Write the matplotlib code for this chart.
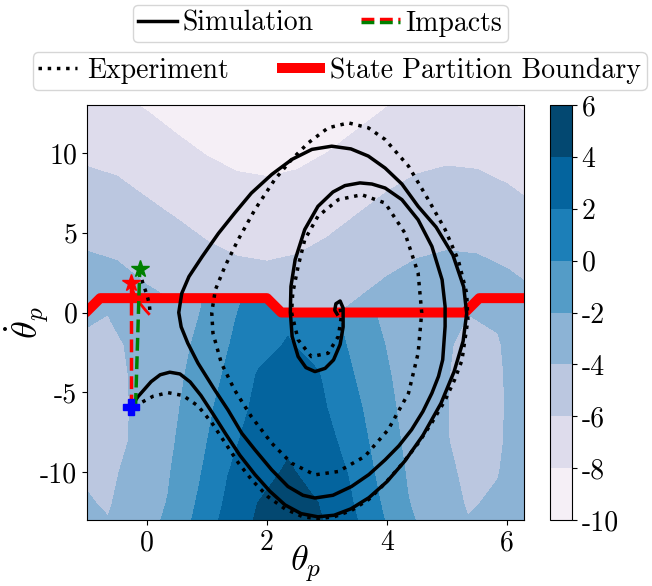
import matplotlib
matplotlib.use('Agg')
import matplotlib.pyplot as plt
from matplotlib.patches import Polygon
from matplotlib.lines import Line2D
from matplotlib.legend_handler import HandlerBase

plt.rcParams['font.family'] = 'serif'
plt.rcParams['font.serif'] = ['cmr10']
plt.rcParams['mathtext.fontset'] = 'cm'
plt.rcParams['axes.unicode_minus'] = False
plt.rcParams['font.size'] = 20

# contour levels / ticks
levels = [-10, -8, -6, -4, -2, 0, 2, 4, 6]
level_labels = ['-10', '-8', '-6', '-4', '-2', '0', '2', '4', '6']
xticks = [0, 2, 4, 6]
yticks = [-10, -5, 0, 5, 10]
ytick_labels = ['-10', '-5', '0', '5', '10']

# field above the partition boundary
upper_theta = [-1.0, -0.5, 0.0, 0.5, 1.0, 1.5, 2.0, 2.5, 3.0, 3.5, 4.0, 4.5, 5.0, 5.5, 6.0, 6.5]
upper_dtheta = [-1.0, 6.5, 13.5]
upper_z = [
    [-2.17, -2.40, -3.00, -3.41, -3.93, -4.29, -4.41, -4.25, -3.85, -3.31, -2.77, -2.35, -2.16, -2.24, -2.58, -3.09],
    [-5.00, -5.23, -5.75, -6.24, -6.76, -7.12, -7.24, -7.08, -6.68, -6.14, -5.60, -5.18, -4.99, -5.07, -5.41, -5.92],
    [-7.64, -7.87, -8.32, -8.88, -9.40, -9.76, -9.88, -9.72, -9.32, -8.78, -8.24, -7.82, -7.63, -7.71, -8.05, -8.56],
]

# field below the partition boundary
lower_theta = [-1.15, -0.65, -0.15, 0.35, 0.85, 1.35, 1.85, 2.35, 2.85, 3.35, 3.85, 4.35, 4.85, 5.35, 5.85, 6.35]
lower_dtheta = [-14.0, -12.0, -10.0, -8.0, -6.0, -4.0, -2.0, -0.5, 1.0]
lower_z = [
    [-3.40, -3.75, -2.65, -1.55, 0.78, 3.00, 4.42, 5.27, 4.42, 3.00, 0.78, -1.55, -2.65, -3.75, -3.40, -2.29],
    [-3.75, -4.15, -3.03, -1.92, 0.19, 2.40, 4.03, 4.75, 4.03, 2.40, 0.19, -1.92, -3.03, -4.15, -3.75, -2.56],
    [-4.07, -4.33, -3.44, -2.18, -0.28, 1.95, 3.40, 4.21, 3.40, 1.95, -0.28, -2.18, -3.44, -4.33, -4.07, -2.89],
    [-4.20, -4.44, -3.80, -2.42, -0.72, 1.51, 2.80, 3.69, 2.80, 1.51, -0.72, -2.42, -3.74, -4.44, -4.20, -3.16],
    [-4.20, -4.44, -3.82, -2.59, -1.09, 1.00, 2.44, 3.17, 2.44, 1.00, -1.09, -2.59, -3.76, -4.44, -4.20, -3.25],
    [-4.18, -4.44, -3.80, -2.70, -1.44, 0.38, 2.15, 2.65, 2.15, 0.38, -1.44, -2.70, -3.73, -4.44, -4.18, -3.28],
    [-4.09, -4.34, -3.70, -2.76, -1.77, -0.10, 1.40, 2.13, 1.40, -0.10, -1.77, -2.76, -3.65, -4.34, -4.09, -3.26],
    [-3.90, -4.05, -3.48, -2.74, -2.00, -0.39, 1.18, 1.74, 1.18, -0.39, -2.00, -2.74, -3.48, -4.05, -3.90, -3.16],
    [-3.80, -3.85, -3.60, -3.00, -2.30, -0.75, 0.80, 1.35, 0.80, -0.75, -2.30, -3.00, -3.60, -3.85, -3.80, -3.35],
]

# state partition boundary
bound_theta = [-1.3, -1.02, -0.78, 2.0, 2.24, 5.3, 5.54, 6.6]
bound_dtheta = [0.0, 0.0, 0.9, 0.9, 0.0, 0.0, 0.9, 0.9]

# simulated trajectory
sim_theta = [-0.27, -0.15, 0.07, 0.22, 0.38, 0.55, 0.72, 0.90, 1.10, 1.32, 1.55, 1.80, 2.05, 2.30,
             2.57, 2.85, 3.12, 3.40, 3.70, 4.00, 4.30, 4.60, 4.90, 5.12, 5.27, 5.33, 5.28, 5.10,
             4.82, 4.52, 4.25, 3.97, 3.69, 3.40, 3.08, 2.75, 2.42, 2.08, 1.74, 1.46, 1.19, 0.92,
             0.70, 0.58, 0.53, 0.57, 0.68, 0.85, 1.13, 1.35, 1.58, 1.80, 2.08, 2.35, 2.60, 2.80,
             3.10, 3.41, 3.70, 3.97, 4.20, 4.41, 4.60, 4.75, 4.86, 4.93, 4.97, 4.97, 4.92, 4.75,
             4.52, 4.25, 3.97, 3.75, 3.55, 3.30, 3.10, 2.85, 2.63, 2.47, 2.40, 2.39, 2.42, 2.52,
             2.65, 2.80, 2.97, 3.11, 3.22, 3.27, 3.27, 3.22, 3.15, 3.13, 3.17]
sim_dtheta = [-5.93, -5.27, -4.33, -3.90, -3.74, -3.85, -4.35, -5.20, -6.35, -7.65, -8.95, -10.15, -11.20, -12.05,
              -12.60, -12.80, -12.70, -12.30, -11.60, -10.60, -9.30, -7.70, -5.70, -3.70, -1.80, -0.05, 1.60, 3.60,
              5.35, 6.65, 8.05, 9.05, 9.80, 10.25, 10.42, 10.22, 9.60, 8.65, 7.48, 6.22, 4.95, 3.50,
              2.25, 1.20, 0.00, -0.90, -1.92, -3.17, -4.85, -6.10, -7.56, -8.60, -9.86, -10.90, -11.45, -11.62,
              -11.45, -10.90, -10.15, -9.23, -8.35, -7.35, -6.20, -5.05, -4.00, -2.96, -0.87, 0.38, 2.05, 4.14,
              5.81, 7.07, 7.80, 8.05, 8.12, 7.95, 7.55, 6.65, 5.20, 3.31, 1.63, 0.00, -1.50, -2.76,
              -3.45, -3.70, -3.50, -2.97, -2.00, -0.90, 0.28, 0.72, 0.55, 0.15, -0.10]

# measured trajectory
exp_theta = [-0.21, -0.05, 0.10, 0.35, 0.60, 0.85, 1.08, 1.30, 1.52, 1.75, 2.02, 2.30, 2.60, 2.85,
             3.12, 3.41, 3.70, 3.97, 4.25, 4.52, 4.75, 4.97, 5.13, 5.25, 5.35, 5.33, 5.19, 4.97,
             4.69, 4.36, 3.97, 3.69, 3.36, 3.02, 2.69, 2.41, 2.13, 1.80, 1.52, 1.30, 1.14, 1.08,
             1.10, 1.24, 1.46, 1.74, 2.08, 2.41, 2.80, 3.19, 3.63, 4.02, 4.36, 4.52, 4.58, 4.52,
             4.30, 3.97, 3.58, 3.19, 2.85, 2.63, 2.52, 2.43, 2.41, 2.52, 2.74, 3.02, 3.19, 3.24, 3.22]
exp_dtheta = [-5.89, -5.55, -5.25, -5.02, -5.20, -5.85, -6.90, -8.15, -9.40, -10.50, -11.55, -12.30, -12.80, -12.92,
              -12.80, -12.40, -11.70, -10.70, -9.50, -8.20, -6.90, -5.50, -4.20, -3.00, -0.45, 1.20, 3.28, 5.20,
              7.07, 9.17, 10.84, 11.57, 11.88, 11.57, 10.63, 9.58, 8.33, 6.45, 4.56, 2.89, 1.42, 0.00,
              -1.29, -3.17, -4.85, -6.52, -8.19, -9.44, -10.17, -9.96, -9.02, -7.35, -5.05, -2.55, 0.00, 2.47,
              4.98, 6.86, 7.38, 7.07, 6.03, 4.56, 2.89, 1.21, 0.00, -1.71, -2.76, -2.55, -1.50, -0.25, 0.27]

# impact maps and post impact states
sim_impact_theta = [-0.27, -0.27]
sim_impact_dtheta = [-5.93, 1.84]
exp_impact_theta = [-0.19, -0.12]
exp_impact_dtheta = [-5.85, 2.72]
sim_after_theta = [-0.27, -0.22, -0.12, -0.03, 0.03]
sim_after_dtheta = [1.84, 1.22, 0.59, 0.17, -0.08]
exp_after_theta = [-0.12, -0.07, 0.00, 0.04, 0.05]
exp_after_dtheta = [2.60, 1.85, 1.10, 0.50, 0.05]


class HandlerImpacts(HandlerBase):
    """Red and green dashed lines stacked in one legend entry."""

    def create_artists(self, legend, orig_handle, xdescent, ydescent,
                       width, height, fontsize, trans):
        y = height / 2.0 - ydescent
        artists = []
        for dy, color in [(1.0, 'red'), (-1.0, 'green')]:
            line = Line2D([-xdescent, width - xdescent], [y + dy, y + dy],
                          color=color, linestyle='--', linewidth=2.5)
            line.set_transform(trans)
            artists.append(line)
        return artists


fig = plt.figure(figsize=(6.52, 5.86), dpi=100)
ax = fig.add_axes([0.1334, 0.1126, 0.6698, 0.7082])
cax = fig.add_axes([0.8436, 0.1126, 0.0333, 0.7082])

upper_clip = Polygon(list(zip(bound_theta, bound_dtheta)) + [(6.6, 14.0), (-1.3, 14.0)],
                     closed=True, transform=ax.transData)
lower_clip = Polygon(list(zip(bound_theta, bound_dtheta)) + [(6.6, -14.0), (-1.3, -14.0)],
                     closed=True, transform=ax.transData)

cs_up = ax.contourf(upper_theta, upper_dtheta, upper_z, levels=levels, cmap='PuBu', zorder=1)
cs_up.set_clip_path(upper_clip)
cs_low = ax.contourf(lower_theta, lower_dtheta, lower_z, levels=levels, cmap='PuBu', zorder=1)
cs_low.set_clip_path(lower_clip)

h_bnd, = ax.plot(bound_theta, bound_dtheta, color='red', lw=7.2, zorder=2)
h_sim, = ax.plot(sim_theta, sim_dtheta, color='black', lw=2.5, zorder=3)
h_exp, = ax.plot(exp_theta, exp_dtheta, color='black', ls=':', lw=2.5, zorder=3)
ax.plot(sim_after_theta, sim_after_dtheta, color='red', lw=2.0, zorder=3)
ax.plot(exp_after_theta, exp_after_dtheta, color='black', ls=':', lw=2.5, zorder=3)
h_imp, = ax.plot(sim_impact_theta, sim_impact_dtheta, color='red', ls='--', lw=2.5, zorder=4)
ax.plot(exp_impact_theta, exp_impact_dtheta, color='green', ls='--', lw=2.5, zorder=4)
ax.plot(sim_impact_theta[1], sim_impact_dtheta[1], marker='*', color='red', ms=13, zorder=5)
ax.plot(exp_impact_theta[1], exp_impact_dtheta[1], marker='*', color='green', ms=13, zorder=5)
ax.plot(sim_theta[0], sim_dtheta[0], marker='P', color='blue', ms=11, zorder=6)

ax.set_xlim(-1, 6.28)
ax.set_ylim(-13, 13)
ax.set_xticks(xticks, [str(t) for t in xticks])
ax.set_yticks(yticks, ytick_labels)
ax.set_xlabel(r'$\theta_p$', fontsize=26, labelpad=-9)
ax.set_ylabel(r'$\dot{\theta}_p$', fontsize=26, labelpad=-8, y=0.475)

cb = fig.colorbar(cs_low, cax=cax, ticks=levels)
cb.set_ticklabels(level_labels)

fig.legend([h_sim, h_imp], ['Simulation', 'Impacts'], loc='upper center',
           bbox_to_anchor=(0.491, 0.992), borderaxespad=0, ncol=2, handlelength=1.4,
           handletextpad=0.2, columnspacing=1.7, borderpad=0.2,
           handler_map={h_imp: HandlerImpacts()})
fig.legend([h_exp, h_bnd], ['Experiment', 'State Partition Boundary'], loc='upper center',
           bbox_to_anchor=(0.521, 0.911), borderaxespad=0, ncol=2, handlelength=1.4,
           handletextpad=0.35, columnspacing=1.9, borderpad=0.2)

fig.savefig('out.png', dpi=100)
